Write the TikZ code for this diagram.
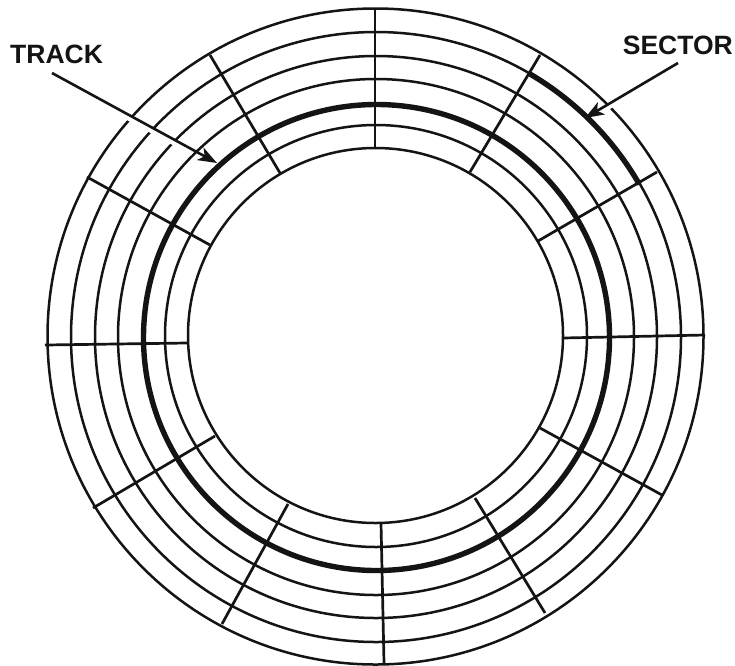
\documentclass[tikz,border=0pt]{standalone}
\usepackage{fontspec}
\setmainfont{Liberation Sans}
\usetikzlibrary{arrows.meta}
\tikzset{
  ring/.style={line width=2.5pt,black!92},
  thickring/.style={line width=5.4pt,black!92},
  sectorline/.style={line width=2.7pt,black!92},
  pointer/.style={line width=2.6pt,black!92,-{Stealth[length=19pt,width=14pt,inset=5pt]}},
  gapline/.style={line width=4.5pt,white},
  lbl/.style={font=\bfseries\fontsize{26.5}{30}\selectfont,inner sep=0pt,black!92}
}
\begin{document}
\begin{tikzpicture}[x=1pt,y=-1pt]
\useasboundingbox (0,0) rectangle (735,665);
\fill[white] (0,0) rectangle (735,665);
% concentric tracks
\foreach \r/\cx/\cy in {187.5/375.5/335.5, 211/376/336, 258/376/337, 281/376/337, 305/376/337, 328/375.5/336.5}{
  \draw[ring] (\cx,\cy) circle [radius=\r];
}
\draw[thickring] (376.5,337.5) circle [radius=233];
% highlighted sector
\draw[thickring] (530,74) arc [start angle=-59.5,end angle=-30,radius=305];
% sector boundaries
\draw[sectorline] (375,10) -- (375,148);
\draw[sectorline] (540,55) -- (470,172);
\draw[sectorline] (657,172) -- (538,241);
\draw[sectorline] (705,335) -- (563,338);
\draw[sectorline] (662,495) -- (540,428);
\draw[sectorline] (545,613) -- (475,498);
\draw[sectorline] (384,663) -- (381,523);
\draw[sectorline] (222,624) -- (288,504);
\draw[sectorline] (93,508) -- (215,436);
\draw[sectorline] (45,345) -- (187,343);
\draw[sectorline] (87,177) -- (210,245);
\draw[sectorline] (210,55) -- (280,173);
% labels and pointers
\node[lbl,anchor=west] (track) at (10,54) {TRACK};
\node[lbl,anchor=east] (sector) at (733,45) {SECTOR};
\coordinate (trackStart) at (52,73);
\coordinate (trackEnd) at (217,163);
\coordinate (sectorStart) at (678,63);
\coordinate (sectorEnd) at (585,118);
\coordinate (trackGapA) at (116.5,111.8);
\coordinate (trackGapB) at (192.5,153.3);
\coordinate (sectorGapA) at (617,102);
\coordinate (sectorGapB) at (600,112.5);
\draw[gapline] (trackGapA) -- (trackGapB);
\draw[gapline] (sectorGapA) -- (sectorGapB);
\draw[pointer] (trackStart) -- (trackEnd);
\draw[pointer] (sectorStart) -- (sectorEnd);
\end{tikzpicture}
\end{document}
